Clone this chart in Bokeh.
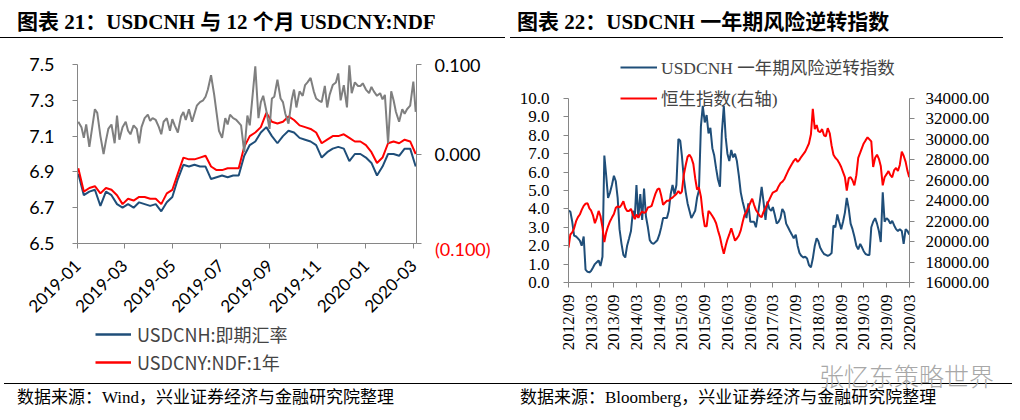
import numpy as np
import pandas as pd
from bokeh.plotting import figure
from bokeh.models import (Range1d, LinearAxis, FixedTicker, NumeralTickFormatter,
                          Legend, LegendItem, Div, ColumnDataSource)
from bokeh.layouts import row, column
from bokeh.embed import file_html
from bokeh.resources import INLINE

# ---------------- Chart 21 data ----------------
fx_week_start = "2019-01-02"          # weekly observations
usdcnh_spot = [6.89, 6.77, 6.79, 6.80, 6.71, 6.79, 6.77, 6.72, 6.70, 6.72,
               6.70, 6.73, 6.72, 6.71, 6.72, 6.68, 6.73, 6.76, 6.86, 6.94,
               6.93, 6.94, 6.93, 6.93, 6.86, 6.87, 6.88, 6.87, 6.88, 6.88,
               6.99, 7.05, 7.07, 7.12, 7.15, 7.10, 7.06, 7.10, 7.13, 7.12,
               7.09, 7.08, 7.07, 7.05, 6.98, 7.01, 7.03, 7.04, 7.03, 6.96,
               7.00, 7.00, 6.98, 6.95, 6.88, 6.93, 7.00, 7.00, 6.99, 7.03,
               7.03, 6.93]
usdcny_ndf = [6.92, 6.79, 6.81, 6.82, 6.78, 6.81, 6.80, 6.77, 6.72, 6.75,
              6.74, 6.76, 6.76, 6.75, 6.75, 6.72, 6.78, 6.80, 6.89, 6.98,
              6.97, 6.97, 6.98, 6.99, 6.93, 6.91, 6.91, 6.92, 6.92, 6.92,
              7.04, 7.10, 7.12, 7.15, 7.23, 7.18, 7.17, 7.18, 7.21, 7.19,
              7.16, 7.15, 7.14, 7.12, 7.06, 7.08, 7.10, 7.10, 7.11, 7.09,
              7.07, 7.07, 7.05, 7.01, 6.95, 6.98, 7.06, 7.07, 7.06, 7.08,
              7.07, 7.00]
ndf_spread = [0.036, 0.030, 0.018, 0.033, 0.008, 0.032, 0.050, 0.046, 0.020, 0.000,
              0.015, 0.028, 0.033, 0.012, 0.043, 0.016, 0.030, 0.036, 0.026, 0.022,
              0.032, 0.028, 0.012, 0.030, 0.040, 0.044, 0.037, 0.040, 0.038, 0.030,
              0.022, 0.036, 0.040, 0.026, 0.039, 0.032, 0.024, 0.042, 0.047, 0.038,
              0.050, 0.036, 0.045, 0.054, 0.058, 0.060, 0.064, 0.072, 0.088, 0.066,
              0.046, 0.026, 0.018, 0.040, 0.033, 0.044, 0.040, 0.038, 0.035, 0.032,
              0.002, 0.043, 0.032, 0.060, 0.098, 0.040, 0.058, 0.065, 0.048, 0.028,
              0.062, 0.064, 0.083, 0.062, 0.058, 0.045, 0.034, 0.060, 0.072, 0.052,
              0.070, 0.065, 0.077, 0.080, 0.085, 0.070, 0.062, 0.060, 0.058, 0.076,
              0.052, 0.066, 0.077, 0.080, 0.090, 0.060, 0.077, 0.052, 0.099, 0.068,
              0.080, 0.076, 0.076, 0.079, 0.072, 0.068, 0.075, 0.070, 0.065, 0.068,
              0.061, 0.066, 0.012, 0.070, 0.060, 0.047, 0.036, 0.050, 0.045, 0.050,
              0.054, 0.081, 0.047]
fx_tick_labels = ["2019-01", "2019-03", "2019-05", "2019-07", "2019-09",
                  "2019-11", "2020-01", "2020-03"]
ndf_tick_labels = ["(0.100)", "0.000", "0.100"]

# ---------------- Chart 22 data ----------------
rr_start_month = "2012-09"          # observations on the 1st and 16th of each month
rr_1y = [3.9, 3.85, 3.3, 2.55, 2.5, 2.4, 2.28, 2.0, 2.5, 0.7,
         0.58, 0.55, 0.62, 0.8, 1.0, 1.1, 1.2, 0.9, 1.4, 6.9,
         5.8, 4.6, 4.9, 5.3, 5.8, 5.5, 4.6, 2.9, 2.1, 1.5,
         1.36, 2.0, 2.4, 2.8, 3.9, 3.6, 5.3, 3.5, 4.8, 3.4,
         5.1, 3.6, 3.0, 2.3, 2.15, 2.1, 2.2, 2.3, 2.6, 3.0,
         3.5, 3.5, 3.5, 3.9, 4.8, 5.3, 4.8, 5.3, 7.8, 7.7,
         6.9, 5.7, 4.9, 4.3, 3.9, 3.5, 3.7, 3.9, 4.6, 5.0,
         8.5, 9.6, 8.7, 9.1, 8.1, 8.4, 7.3, 6.9, 6.2, 5.6,
         5.2, 8.1, 9.6, 7.9, 7.0, 6.6, 7.2, 6.8, 7.0, 6.6,
         5.8, 4.9, 4.4, 4.0, 3.5, 4.3, 3.3, 3.3, 3.3, 3.0,
         3.7, 4.4, 5.2, 4.4, 3.4, 4.4, 4.0, 3.9, 4.1, 3.7,
         3.2, 3.3, 3.5, 4.0, 3.8, 3.2, 3.0, 2.8, 2.6, 2.4,
         2.6, 2.0, 1.6, 1.45, 1.36, 1.4, 1.3, 0.95, 0.82, 1.3,
         2.0, 2.4, 2.26, 1.9, 1.7, 1.55, 1.5, 1.45, 1.5, 1.6,
         3.1, 3.0, 3.7, 3.3, 2.9, 3.3, 3.8, 4.6, 4.0, 3.2,
         2.9, 2.5, 2.0, 1.8, 2.1, 1.9, 1.7, 1.55, 1.5, 1.5,
         3.0, 3.3, 3.5, 3.2, 2.8, 2.2, 4.9, 3.3, 3.5, 3.4,
         3.2, 3.35, 3.1, 2.9, 2.8, 2.9, 2.8, 2.1, 2.9, 2.8, 2.6]
hsi = [19420, 20700, 20900, 21300, 22000, 22400, 22650, 23100, 23500, 23700,
       23750, 23250, 23050, 22600, 21800, 22300, 23000, 22500, 21400, 19950,
       20900, 21500, 22000, 22350, 22700, 23300, 23450, 23350, 23600, 23950,
       23300, 23000, 23000, 23200, 22600, 22200, 22650, 22350, 22700, 22950,
       22800, 22900, 23340, 23400, 23500, 24100, 24700, 25100, 25200, 24500,
       23600, 23800, 23990, 24000, 24200, 24300, 24500, 24650, 24950, 24700,
       24900, 26500, 27500, 28300, 28500, 28200, 27600, 26200, 25100, 25300,
       24400, 22700, 21500, 21500, 23000, 22800, 22500, 22200, 21800, 21100,
       20450, 19600, 18800, 19600, 20200, 20700, 21300, 20700, 20100, 20300,
       20600, 21100, 21900, 22600, 22900, 23340, 23800, 24200, 23600, 23100,
       22800, 22500, 22400, 22900, 23300, 23700, 24100, 24500, 24800, 24900,
       25000, 25400, 25700, 25850, 26100, 26500, 26900, 27250, 27600, 27900,
       28100, 27800, 28000, 28300, 28550, 28800, 29200, 29600, 30500, 33000,
       31000, 31400, 30800, 30700, 31000, 30400, 30300, 31100, 30600, 29400,
       28500, 28200, 28000, 27700, 27300, 26800, 26300, 25000, 26200, 26300,
       26000, 25500, 26500, 28200, 28700, 29200, 29600, 29900, 30200, 30000,
       29800, 27300, 28200, 28500, 28100, 27400, 25500, 26300, 26600, 26900,
       26500, 26300, 27000, 27200, 26900, 27500, 28800, 28400, 27800, 26900, 26300]
rr_tick_labels = ["2012/09", "2013/03", "2013/09", "2014/03", "2014/09", "2015/03",
                  "2015/09", "2016/03", "2016/09", "2017/03", "2017/09", "2018/03",
                  "2018/09", "2019/03", "2019/09", "2020/03"]
rr_left_ticks = [0, 1, 2, 3, 4, 5, 6, 7, 8, 9, 10]
hsi_ticks = [16000, 18000, 20000, 22000, 24000, 26000, 28000, 30000, 32000, 34000]

# ---------------- text ----------------
TITLE_L = "图表 21：USDCNH 与 12 个月 USDCNY:NDF"
TITLE_R = "图表 22：USDCNH 一年期风险逆转指数"
SOURCE_L = "数据来源：Wind，兴业证券经济与金融研究院整理"
SOURCE_R = "数据来源：Bloomberg，兴业证券经济与金融研究院整理"
WATERMARK = "张忆东策略世界"

BLUE = "#1F4E79"
RED = "#FF0000"
GREY_LINE = "#7F7F7F"
AXIS_GREY = "#868686"


def ms(ts):
    return int(pd.Timestamp(ts).timestamp() * 1000)


def style_axis(ax, font, size, standoff, color="#000000"):
    ax.axis_line_color = AXIS_GREY
    ax.axis_line_width = 1
    ax.major_tick_line_color = AXIS_GREY
    ax.minor_tick_line_color = None
    ax.major_tick_in = 0
    ax.major_tick_out = 5
    ax.major_label_standoff = standoff
    ax.major_label_text_font = font
    ax.major_label_text_font_size = size
    ax.major_label_text_color = color


def clean(p):
    p.outline_line_color = None
    p.xgrid.grid_line_color = None
    p.ygrid.grid_line_color = None
    p.background_fill_color = "white"
    p.border_fill_color = "white"
    p.frame_align = False


# ================= Chart 21 =================
wk_dates = pd.date_range(fx_week_start, periods=len(usdcnh_spot), freq="7D")
hw_dates = pd.Timestamp(fx_week_start) + pd.to_timedelta(
    np.round(np.arange(len(ndf_spread)) * 3.5), unit="D")
src_fx = ColumnDataSource(dict(date=wk_dates, spot=usdcnh_spot, ndf=usdcny_ndf))
src_sp = ColumnDataSource(dict(date=hw_dates, spread=ndf_spread))

x1_start, x1_end = pd.Timestamp("2019-01-01"), pd.Timestamp("2020-03-05")
p1 = figure(width=510, height=280, x_axis_type="datetime", output_backend="svg",
            toolbar_location=None,
            x_range=Range1d(ms(x1_start), ms(x1_end)), y_range=Range1d(6.5, 7.5),
            min_border_left=77, min_border_right=94, min_border_top=24,
            min_border_bottom=71)
clean(p1)
p1.extra_y_ranges = {"ndf": Range1d(-0.1, 0.1)}

r_spot = p1.line("date", "spot", source=src_fx, line_color=BLUE, line_width=2)
r_ndf = p1.line("date", "ndf", source=src_fx, line_color=RED, line_width=2)
p1.line("date", "spread", source=src_sp, line_color=GREY_LINE, line_width=2,
        y_range_name="ndf")

fx_tick_ms = [ms(pd.to_datetime(t, format="%Y-%m")) for t in fx_tick_labels]
xa1 = p1.xaxis[0]
xa1.ticker = FixedTicker(ticks=fx_tick_ms)
xa1.major_label_overrides = {t: l for t, l in zip(fx_tick_ms, fx_tick_labels)}
xa1.major_label_orientation = np.pi / 4
style_axis(xa1, "Lato", "17px", 14)

ya1 = p1.yaxis[0]
ya1.ticker = FixedTicker(ticks=[6.5, 6.7, 6.9, 7.1, 7.3, 7.5])
style_axis(ya1, "Lato", "18px", 18)

ya1r = LinearAxis(y_range_name="ndf", ticker=FixedTicker(ticks=[-0.1, 0.0, 0.1]))
ya1r.major_label_overrides = {-0.1: " ", 0.0: ndf_tick_labels[1], 0.1: ndf_tick_labels[2]}
style_axis(ya1r, "Lato", "18px", 13)
p1.add_layout(ya1r, "right")

# legend strip of chart 21 (sits under the rotated date labels); the series are
# re-attached here only so the legend can show their line style - its ranges keep
# them out of view.
lg = figure(width=510, height=65, output_backend="svg", toolbar_location=None,
            x_range=Range1d(0, 1), y_range=Range1d(0, 1), min_border=0,
            x_axis_location=None, y_axis_location=None)
lg.outline_line_color = None
lg.grid.visible = False
lg.frame_align = False
lg_spot = lg.line("date", "spot", source=src_fx, line_color=BLUE, line_width=2.5)
lg_ndf = lg.line("date", "ndf", source=src_fx, line_color=RED, line_width=2.5)
leg1 = Legend(items=[LegendItem(label="USDCNH:即期汇率", renderers=[lg_spot]),
                     LegendItem(label="USDCNY:NDF:1年", renderers=[lg_ndf])],
              location=(95, 10), orientation="vertical",
              label_text_font="Noto Sans CJK SC", label_text_font_size="18px",
              glyph_width=36, glyph_height=20, label_height=20, label_standoff=6,
              spacing=2, padding=0, margin=0,
              background_fill_alpha=0, border_line_alpha=0)
lg.add_layout(leg1)

# ================= Chart 22 =================
months = pd.date_range(pd.to_datetime(rr_start_month, format="%Y-%m"),
                       periods=(len(rr_1y) + 1) // 2, freq="MS")
semi_dates = []
for m in months:
    semi_dates.append(m)
    semi_dates.append(m + pd.Timedelta(days=15))
semi_dates = semi_dates[:len(rr_1y)]
src_rr = ColumnDataSource(dict(date=semi_dates, rr=rr_1y, hsi=hsi))

x2_start = pd.to_datetime(rr_tick_labels[0], format="%Y/%m")
x2_end = pd.to_datetime(rr_tick_labels[-1], format="%Y/%m") + pd.Timedelta(days=2)
p2 = figure(width=510, height=345, x_axis_type="datetime", output_backend="svg",
            toolbar_location=None,
            x_range=Range1d(ms(x2_start), ms(x2_end)), y_range=Range1d(0, 12.609),
            min_border_left=58, min_border_right=111, min_border_top=10,
            min_border_bottom=103)
clean(p2)
p2.extra_y_ranges = {"hsi": Range1d(16000, 38696)}

r_rr = p2.line("date", "rr", source=src_rr, line_color=BLUE, line_width=2)
r_hsi = p2.line("date", "hsi", source=src_rr, line_color=RED, line_width=2,
                y_range_name="hsi")

rr_tick_ms = [ms(pd.to_datetime(t, format="%Y/%m")) for t in rr_tick_labels]
xa2 = p2.xaxis[0]
xa2.ticker = FixedTicker(ticks=rr_tick_ms)
xa2.major_label_overrides = {t: l for t, l in zip(rr_tick_ms, rr_tick_labels)}
xa2.major_label_orientation = np.pi / 2
style_axis(xa2, "Liberation Serif", "17px", 7)

ya2 = p2.yaxis[0]
ya2.ticker = FixedTicker(ticks=rr_left_ticks)
ya2.formatter = NumeralTickFormatter(format="0.0")
ya2.bounds = (rr_left_ticks[0], rr_left_ticks[-1])
style_axis(ya2, "Liberation Serif", "17px", 14)

ya2r = LinearAxis(y_range_name="hsi", ticker=FixedTicker(ticks=hsi_ticks),
                  formatter=NumeralTickFormatter(format="0.00"),
                  bounds=(hsi_ticks[0], hsi_ticks[-1]))
style_axis(ya2r, "Liberation Serif", "17px", 11)
p2.add_layout(ya2r, "right")

leg2 = Legend(items=[LegendItem(label="USDCNH 一年期风险逆转指数", renderers=[r_rr]),
                     LegendItem(label="恒生指数(右轴)", renderers=[r_hsi])],
              location=(48, 168), orientation="vertical",
              label_text_font="Liberation Serif, Noto Sans CJK SC",
              label_text_font_size="17.5px",
              glyph_width=37, glyph_height=20, label_height=20, label_standoff=4,
              spacing=6, padding=4, margin=0,
              background_fill_alpha=0, border_line_alpha=0)
p2.add_layout(leg2)

# ================= Titles & footer =================
FONT_MIX = "'Liberation Serif','Noto Sans CJK SC'"
title_html = f"""
<div style="position:relative;width:1020px;height:40px;">
  <div style="position:absolute;left:17px;top:10px;font-family:{FONT_MIX};font-weight:bold;
              font-size:21px;line-height:24px;white-space:nowrap;color:#000;">{TITLE_L}</div>
  <div style="position:absolute;left:517px;top:10px;font-family:{FONT_MIX};font-weight:bold;
              font-size:21px;line-height:24px;white-space:nowrap;color:#000;">{TITLE_R}</div>
  <div style="position:absolute;left:0px;top:37px;width:505px;border-top:1.5px solid #000;"></div>
  <div style="position:absolute;left:510px;top:37px;width:493px;border-top:1.5px solid #000;"></div>
</div>"""
# the footer block starts at y=385; the negative offsets reach back into the chart area
footer_html = f"""
<div style="position:relative;width:1020px;height:35px;overflow:visible;">
  <div style="position:absolute;left:435px;top:-146px;font-family:Lato;font-size:18px;
              line-height:20px;white-space:nowrap;color:{RED};">{ndf_tick_labels[0]}</div>
  <div style="position:absolute;left:4px;top:-2px;width:1008px;border-top:1.2px solid #000;"></div>
  <div style="position:absolute;left:17px;top:3px;font-family:{FONT_MIX};font-size:17px;
              line-height:20px;white-space:nowrap;color:#000;">{SOURCE_L}</div>
  <div style="position:absolute;left:520px;top:3px;font-family:{FONT_MIX};font-size:17px;
              line-height:20px;white-space:nowrap;color:#000;">{SOURCE_R}</div>
  <div style="position:absolute;left:819px;top:-24px;font-family:'Noto Sans CJK SC';font-size:25px;
              font-weight:300;line-height:28px;white-space:nowrap;color:#a8a8a8;">{WATERMARK}</div>
</div>"""
title_div = Div(text=title_html, width=1020, height=40, margin=0,
                styles={"overflow": "visible"})
footer_div = Div(text=footer_html, width=1020, height=35, margin=0,
                 styles={"overflow": "visible"})

layout = column(title_div,
                row(column(p1, lg, spacing=0), p2, spacing=0),
                footer_div, spacing=0)
with open("out.html", "w", encoding="utf-8") as f:
    f.write(file_html(layout, INLINE, "USDCNH charts"))
